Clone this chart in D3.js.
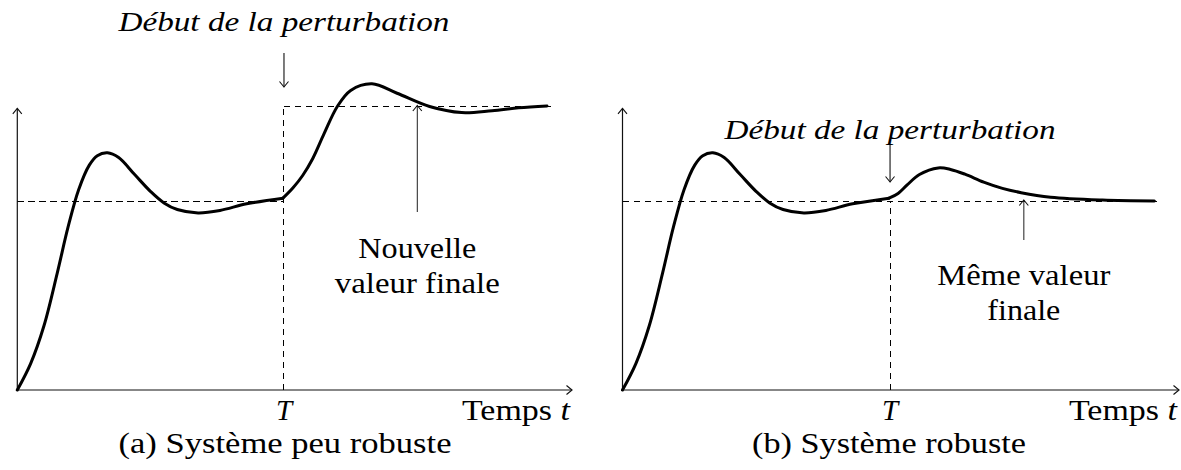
<!DOCTYPE html>
<html>
<head>
<meta charset="utf-8">
<script src="https://cdn.jsdelivr.net/npm/d3@7"></script>
<style>
    html, body { margin: 0; padding: 0; background: #fff; }
    svg text { font-family: "Liberation Serif", "Times New Roman", Times, serif; fill: #000; }
</style>
</head>
<body>
<div id="chart"></div>
<script>
// step response, [t, y]; T = 5, final value = 1
const responseBefore = [
    [0, 0], [0.25, 0.14], [0.5, 0.34], [0.75, 0.62], [0.95, 0.86], [1.15, 1.06],
    [1.35, 1.19], [1.5, 1.24], [1.69, 1.255], [1.9, 1.23], [2.2, 1.14],
    [2.5, 1.05], [2.75, 0.99], [3.0, 0.955], [3.39, 0.937], [3.8, 0.95],
    [4.3, 0.985], [4.98, 1.015]
];
const responseAfterA = [
    [4.98, 1.015], [5.17, 1.07], [5.35, 1.135], [5.54, 1.225], [5.75, 1.355],
    [6.0, 1.5], [6.25, 1.585], [6.65, 1.62], [7.12, 1.57], [7.73, 1.5],
    [8.33, 1.468], [8.9, 1.478], [9.4, 1.493], [9.93, 1.503]
];
const responseAfterB = [
    [4.98, 1.015], [5.15, 1.04], [5.32, 1.085], [5.55, 1.14], [5.9, 1.175],
    [6.13, 1.167], [6.4, 1.142], [6.75, 1.1], [7.1, 1.067], [7.45, 1.044],
    [8.0, 1.02], [8.97, 1.005], [9.94, 1.0]
];
const tPerturb = 5;
const tEnd = 10;
const finalValue = 1;
const newFinalValues = [1.5, 1];
const arrowTargetT = [7.5, 7.5];
const topLabels = ["Début de la perturbation", "Début de la perturbation"];
const finalLabels = [["Nouvelle", "valeur finale"], ["Même valeur", "finale"]];
const captions = ["(a) Système peu robuste", "(b) Système robuste"];
const tickLabel = "T";

const width = 1181, height = 470;

const svg = d3.select("#chart").append("svg")
    .attr("width", width)
    .attr("height", height);

// TikZ-like open arrow tip
svg.append("defs").append("marker")
    .attr("id", "tip")
    .attr("markerUnits", "userSpaceOnUse")
    .attr("viewBox", "-8 -6 10 12")
    .attr("refX", 0).attr("refY", 0)
    .attr("markerWidth", 10).attr("markerHeight", 12)
    .attr("orient", "auto")
    .append("path")
    .attr("d", "M-5.5,-4.5 Q-1.5,-1.2 0,0 Q-1.5,1.2 -5.5,4.5")
    .attr("fill", "none")
    .attr("stroke", "#111")
    .attr("stroke-width", 1.1);

const panels = [
    { x0: 17.3, x1: 572, after: responseAfterA, topY: 31, arrowTop: 53, arrowTip: 87,
      labelY: 258, labelW: [118, 165], capX: 285, capW: 333 },
    { x0: 622.5, x1: 1179, after: responseAfterB, topY: 139, arrowTop: 145, arrowTip: 182,
      labelY: 285, labelW: [173, 73], capX: 889, capW: 274 }
];

function label(g, s, xp, yp, size, w, italic) {
    const t = g.append("text")
        .attr("x", xp).attr("y", yp)
        .attr("text-anchor", "middle")
        .attr("font-size", size)
        .text(s);
    if (italic) t.attr("font-style", "italic");
    if (w) t.attr("textLength", w).attr("lengthAdjust", "spacingAndGlyphs");
    return t;
}

panels.forEach(function (p, i) {
    const x = d3.scaleLinear().domain([0, 10.4]).range([p.x0, p.x1]);
    const y = d3.scaleLinear().domain([0, 1.5]).range([390, 106.5]);
    const g = svg.append("g");
    const nf = newFinalValues[i];

    // dashed guides
    const dash = function (xa, ya, xb, yb) {
        g.append("line")
            .attr("x1", x(xa)).attr("y1", y(ya))
            .attr("x2", x(xb)).attr("y2", y(yb))
            .attr("stroke", "#000")
            .attr("stroke-width", 1)
            .attr("shape-rendering", "crispEdges")
            .attr("stroke-dasharray", "6.5,4.5");
    };
    if (i === 0) {
        dash(0, finalValue, tPerturb, finalValue);
        dash(tPerturb, 0, tPerturb, nf);
        dash(tPerturb, nf, tEnd, nf);
    } else {
        dash(0, finalValue, tEnd, finalValue);
        dash(tPerturb, 0, tPerturb, finalValue);
    }

    // axes
    g.append("line")
        .attr("x1", x(0)).attr("y1", y(0))
        .attr("x2", x(10.4)).attr("y2", y(0))
        .attr("stroke", "#111").attr("stroke-width", 1.2)
        .attr("marker-end", "url(#tip)");
    g.append("line")
        .attr("x1", x(0)).attr("y1", y(0))
        .attr("x2", x(0)).attr("y2", y(1.49))
        .attr("stroke", "#111").attr("stroke-width", 1.2)
        .attr("marker-end", "url(#tip)");

    // response curve
    const line = d3.line()
        .x(d => x(d[0]))
        .y(d => y(d[1]))
        .curve(d3.curveCatmullRom.alpha(0.5));
    [responseBefore, p.after].forEach(function (seg) {
        g.append("path")
            .datum(seg)
            .attr("d", line)
            .attr("fill", "none")
            .attr("stroke", "#000")
            .attr("stroke-width", 3)
            .attr("stroke-linejoin", "round")
            .attr("stroke-linecap", "round");
    });

    // perturbation arrow + label
    g.append("line")
        .attr("x1", x(tPerturb)).attr("y1", p.arrowTop)
        .attr("x2", x(tPerturb)).attr("y2", p.arrowTip)
        .attr("stroke", "#111").attr("stroke-width", 1.1)
        .attr("marker-end", "url(#tip)");
    label(g, topLabels[i], x(tPerturb), p.topY, 28, 331, true);

    // final value arrow + label
    const ax = x(arrowTargetT[i]);
    g.append("line")
        .attr("x1", ax).attr("y1", i === 0 ? 212 : 240)
        .attr("x2", ax).attr("y2", y(nf) - 1)
        .attr("stroke", "#333").attr("stroke-width", 1.1)
        .attr("marker-end", "url(#tip)");
    finalLabels[i].forEach(function (s, k) {
        label(g, s, ax, p.labelY + k * 35, 29, p.labelW[k], false);
    });

    // T tick label and axis name
    label(g, tickLabel, x(tPerturb), 420, 29, null, true);
    const axisName = g.append("text")
        .attr("x", x(10.4) - 2).attr("y", 420)
        .attr("text-anchor", "end")
        .attr("font-size", 29)
        .attr("textLength", 108)
        .attr("lengthAdjust", "spacingAndGlyphs");
    axisName.append("tspan").text("Temps ");
    axisName.append("tspan").attr("font-style", "italic").text("t");

    // caption
    label(g, captions[i], p.capX, 453, 29, p.capW, false);
});
</script>
</body>
</html>
